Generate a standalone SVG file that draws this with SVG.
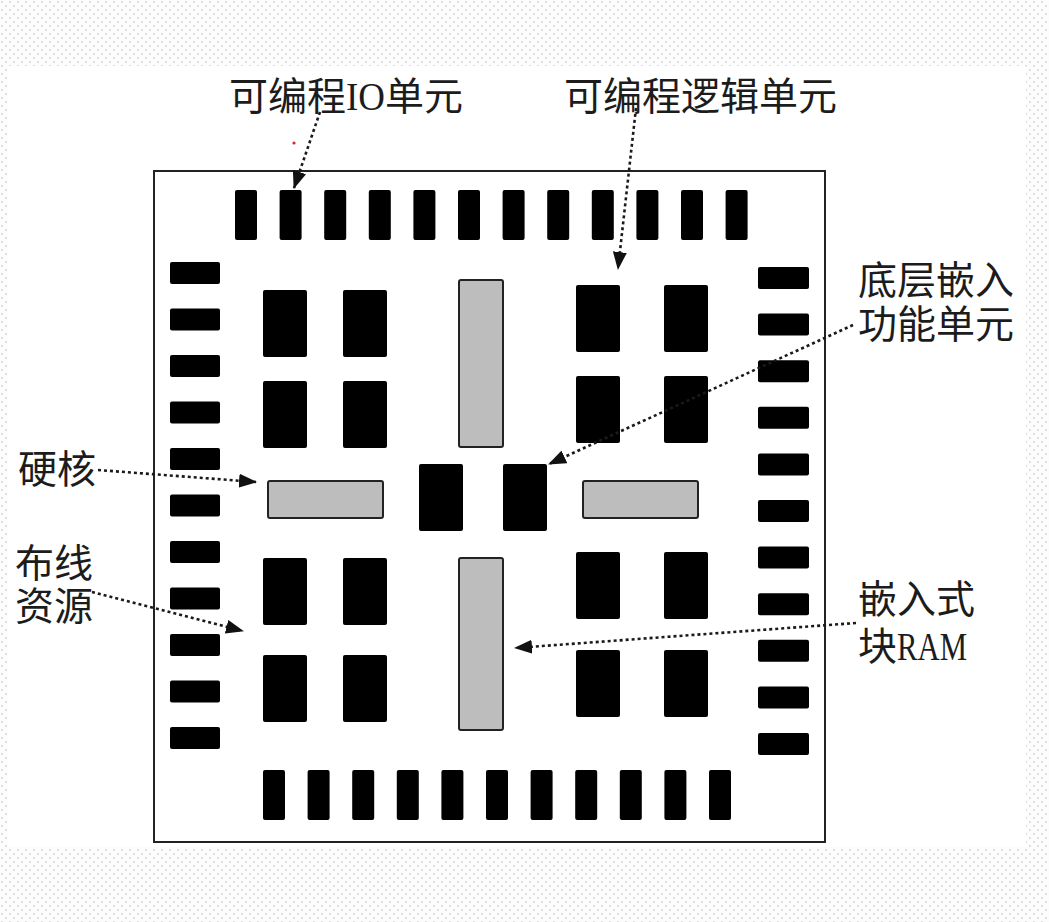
<svg xmlns="http://www.w3.org/2000/svg" width="1049" height="922" viewBox="0 0 1049 922">
<style>
.io{fill:#000}
.clb{fill:#000}
.ram{fill:#bdbdbd;stroke:#222;stroke-width:2}
.lbl{font-family:"Liberation Serif","Noto Sans CJK SC",serif;font-size:39px;fill:#1c1c1c}
.conn{fill:none;stroke:#1a1a1a;stroke-width:2.6;stroke-dasharray:3 3;marker-end:url(#ah)}
</style>
<defs>
<pattern id="dots" width="8" height="8" patternUnits="userSpaceOnUse">
<circle cx="2" cy="2" r="1" fill="#d6d6d6"/><circle cx="6" cy="6" r="1" fill="#d6d6d6"/>
</pattern>
<marker id="ah" viewBox="0 0 18 14" refX="17" refY="7" markerWidth="18" markerHeight="14" markerUnits="userSpaceOnUse" orient="auto">
<path d="M0,0 L18,7 L0,14 Z" fill="#111"/>
</marker>
</defs>
<rect x="0" y="0" width="1049" height="922" fill="#fcfcfc"/>
<rect x="0" y="0" width="1049" height="922" fill="url(#dots)"/>
<rect x="8" y="66" width="1018" height="781" fill="#fff"/>
<g id="chip">
<rect x="154" y="171" width="671" height="671" fill="#fff" stroke="#222" stroke-width="2"/>
</g>
<g id="io-top">
<rect class="io" x="235" y="190" width="22" height="50" rx="2"/>
<rect class="io" x="279.6" y="190" width="22" height="50" rx="2"/>
<rect class="io" x="324.2" y="190" width="22" height="50" rx="2"/>
<rect class="io" x="368.8" y="190" width="22" height="50" rx="2"/>
<rect class="io" x="413.4" y="190" width="22" height="50" rx="2"/>
<rect class="io" x="458" y="190" width="22" height="50" rx="2"/>
<rect class="io" x="502.6" y="190" width="22" height="50" rx="2"/>
<rect class="io" x="547.2" y="190" width="22" height="50" rx="2"/>
<rect class="io" x="591.8" y="190" width="22" height="50" rx="2"/>
<rect class="io" x="636.4" y="190" width="22" height="50" rx="2"/>
<rect class="io" x="681" y="190" width="22" height="50" rx="2"/>
<rect class="io" x="725.6" y="190" width="22" height="50" rx="2"/>
</g>
<g id="io-bottom">
<rect class="io" x="263" y="770" width="22" height="50" rx="2"/>
<rect class="io" x="307.6" y="770" width="22" height="50" rx="2"/>
<rect class="io" x="352.2" y="770" width="22" height="50" rx="2"/>
<rect class="io" x="396.8" y="770" width="22" height="50" rx="2"/>
<rect class="io" x="441.4" y="770" width="22" height="50" rx="2"/>
<rect class="io" x="486" y="770" width="22" height="50" rx="2"/>
<rect class="io" x="530.6" y="770" width="22" height="50" rx="2"/>
<rect class="io" x="575.2" y="770" width="22" height="50" rx="2"/>
<rect class="io" x="619.8" y="770" width="22" height="50" rx="2"/>
<rect class="io" x="664.4" y="770" width="22" height="50" rx="2"/>
<rect class="io" x="709" y="770" width="22" height="50" rx="2"/>
</g>
<g id="io-left">
<rect class="io" x="170" y="262" width="50" height="22" rx="2"/>
<rect class="io" x="170" y="308.5" width="50" height="22" rx="2"/>
<rect class="io" x="170" y="355" width="50" height="22" rx="2"/>
<rect class="io" x="170" y="401.5" width="50" height="22" rx="2"/>
<rect class="io" x="170" y="448" width="50" height="22" rx="2"/>
<rect class="io" x="170" y="494.5" width="50" height="22" rx="2"/>
<rect class="io" x="170" y="541" width="50" height="22" rx="2"/>
<rect class="io" x="170" y="587.5" width="50" height="22" rx="2"/>
<rect class="io" x="170" y="634" width="50" height="22" rx="2"/>
<rect class="io" x="170" y="680.5" width="50" height="22" rx="2"/>
<rect class="io" x="170" y="727" width="50" height="22" rx="2"/>
</g>
<g id="io-right">
<rect class="io" x="758" y="267" width="51" height="22" rx="2"/>
<rect class="io" x="758" y="313.6" width="51" height="22" rx="2"/>
<rect class="io" x="758" y="360.2" width="51" height="22" rx="2"/>
<rect class="io" x="758" y="406.8" width="51" height="22" rx="2"/>
<rect class="io" x="758" y="453.4" width="51" height="22" rx="2"/>
<rect class="io" x="758" y="500" width="51" height="22" rx="2"/>
<rect class="io" x="758" y="546.6" width="51" height="22" rx="2"/>
<rect class="io" x="758" y="593.2" width="51" height="22" rx="2"/>
<rect class="io" x="758" y="639.8" width="51" height="22" rx="2"/>
<rect class="io" x="758" y="686.4" width="51" height="22" rx="2"/>
<rect class="io" x="758" y="733" width="51" height="22" rx="2"/>
</g>
<g id="logic-blocks">
<rect class="clb" x="263" y="290" width="44" height="67" rx="2"/>
<rect class="clb" x="343" y="290" width="44" height="67" rx="2"/>
<rect class="clb" x="263" y="381" width="44" height="67" rx="2"/>
<rect class="clb" x="343" y="381" width="44" height="67" rx="2"/>
<rect class="clb" x="576" y="285" width="44" height="67" rx="2"/>
<rect class="clb" x="664" y="285" width="44" height="67" rx="2"/>
<rect class="clb" x="576" y="376" width="44" height="67" rx="2"/>
<rect class="clb" x="664" y="376" width="44" height="67" rx="2"/>
<rect class="clb" x="263" y="558" width="44" height="67" rx="2"/>
<rect class="clb" x="343" y="558" width="44" height="67" rx="2"/>
<rect class="clb" x="263" y="655" width="44" height="67" rx="2"/>
<rect class="clb" x="343" y="655" width="44" height="67" rx="2"/>
<rect class="clb" x="576" y="552" width="44" height="67" rx="2"/>
<rect class="clb" x="664" y="552" width="44" height="67" rx="2"/>
<rect class="clb" x="576" y="650" width="44" height="67" rx="2"/>
<rect class="clb" x="664" y="650" width="44" height="67" rx="2"/>
</g>
<g id="dsp-blocks">
<rect class="clb" x="419" y="464" width="44" height="67" rx="2"/>
<rect class="clb" x="503" y="464" width="44" height="67" rx="2"/>
</g>
<g id="hard-cores">
<rect class="ram" x="268" y="481" width="115" height="37" rx="2"/>
<rect class="ram" x="583" y="481" width="115" height="37" rx="2"/>
</g>
<g id="block-ram">
<rect class="ram" x="459" y="280" width="44" height="167" rx="2"/>
<rect class="ram" x="459" y="558" width="44" height="172" rx="2"/>
</g>
<circle cx="294" cy="143" r="1.6" fill="#d22"/>
<g id="connectors">
<path class="conn" d="M320,112 L294,188"/>
<path class="conn" d="M636,108 L618,269"/>
<path class="conn" d="M853,325 L549,464"/>
<path class="conn" d="M98,470 L256,482"/>
<path class="conn" d="M92,592 L243,631"/>
<path class="conn" d="M856,623 L515,648"/>
</g>
<g id="label-io">
<text class="lbl" x="229" y="110">可编程<tspan textLength="39" lengthAdjust="spacingAndGlyphs">IO</tspan>单元</text>
</g>
<g id="label-logic">
<text class="lbl" x="564" y="110">可编程逻辑单元</text>
</g>
<g id="label-dsp">
<text class="lbl" x="858" y="294">底层嵌入</text>
<text class="lbl" x="858" y="338">功能单元</text>
</g>
<g id="label-core">
<text class="lbl" x="18" y="483">硬核</text>
</g>
<g id="label-routing">
<text class="lbl" x="15" y="577">布线</text>
<text class="lbl" x="15" y="620">资源</text>
</g>
<g id="label-ram">
<text class="lbl" x="858" y="613">嵌入式</text>
<text class="lbl" x="858" y="660">块<tspan textLength="70" lengthAdjust="spacingAndGlyphs">RAM</tspan></text>
</g>
</svg>
